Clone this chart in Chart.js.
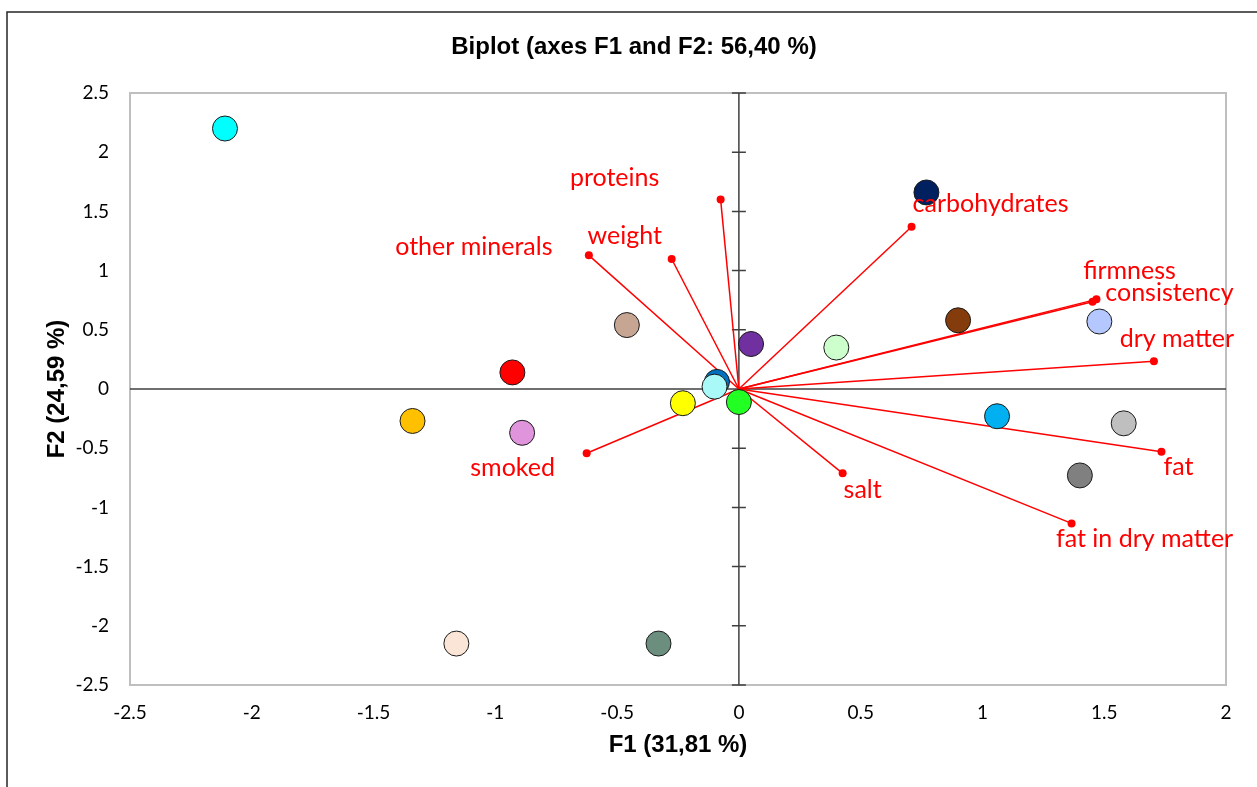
<!DOCTYPE html>
<html lang="en">
    <head>
        <meta charset="UTF-8" />
        <title>Biplot (axes F1 and F2)</title>
        <script src="https://cdn.jsdelivr.net/npm/chart.js"></script>
        <style>
            body { margin: 0; background: #fff; }
        </style>
    </head>
    <body>
        <canvas id="biplot" width="1257" height="787"></canvas>

        <script>
            // observations (F1, F2) and their fill colours
            const obsX = [-2.11, 0.77, -0.46, 0.05, 0.40, 0.90, 1.48, -0.93, -0.09, -0.10, 0.00, -0.23, -1.34, -0.89, 1.06, 1.58, 1.40, -1.16, -0.33];
            const obsY = [2.20, 1.66, 0.54, 0.38, 0.35, 0.58, 0.57, 0.14, 0.06, 0.02, -0.11, -0.12, -0.27, -0.37, -0.23, -0.29, -0.73, -2.15, -2.15];
            const obsColors = ["#00ffff", "#002060", "#c6a593", "#7030a0", "#ccffcc", "#843c0c", "#b4c7ff", "#ff0000", "#0070c0", "#aaf9f9", "#22ff22", "#ffff00", "#ffc000", "#e094dc", "#00b0f0", "#bfbfbf", "#808080", "#fbe5d6", "#6b8e7e"];

            // variables (loadings on F1, F2)
            const varNames = ["proteins", "weight", "other minerals", "carbohydrates", "firmness", "consistency", "dry matter", "fat", "fat in dry matter", "salt", "smoked"];
            const varX = [-0.075, -0.276, -0.616, 0.709, 1.452, 1.468, 1.704, 1.735, 1.366, 0.426, -0.625];
            const varY = [1.60, 1.098, 1.129, 1.371, 0.737, 0.757, 0.234, -0.529, -1.135, -0.712, -0.543];

            const ticksX = [-2.5, -2, -1.5, -1, -0.5, 0, 0.5, 1, 1.5, 2];
            const ticksY = [-2.5, -2, -1.5, -1, -0.5, 0, 0.5, 1, 1.5, 2, 2.5];

            // where each label sits relative to its arrow tip (px)
            const labelOffsets = {
                "proteins": [-106, -22],
                "weight": [-47, -23],
                "other minerals": [-115, -8],
                "carbohydrates": [79, -23],
                "firmness": [37, -31],
                "consistency": [73, -6],
                "dry matter": [23, -22],
                "fat": [17, 15],
                "fat in dry matter": [73, 16],
                "salt": [20, 17],
                "smoked": [-74, 15],
            };

            const vectorSets = varNames.map((name, i) => ({
                label: name,
                type: "scatter",
                data: [{ x: 0, y: 0 }, { x: varX[i], y: varY[i] }],
                showLine: true,
                borderColor: "#ff0000",
                borderWidth: 1.5,
                pointRadius: [0, 4],
                pointBackgroundColor: "#ff0000",
                pointBorderWidth: 0,
                order: 2,
            }));

            const biplotDecor = {
                id: "biplotDecor",
                beforeDatasetsDraw(chart) {
                    const { ctx, chartArea: a, scales } = chart;
                    const x0 = scales.x.getPixelForValue(0);
                    const y0 = scales.y.getPixelForValue(0);
                    ctx.save();
                    // outer frame
                    ctx.strokeStyle = "#262626";
                    ctx.lineWidth = 1.5;
                    ctx.beginPath();
                    ctx.moveTo(7, 787);
                    ctx.lineTo(7, 12);
                    ctx.lineTo(1257, 12);
                    ctx.stroke();
                    // plot border
                    ctx.strokeStyle = "#bfbfbf";
                    ctx.lineWidth = 2;
                    ctx.strokeRect(a.left, a.top, a.right - a.left, a.bottom - a.top);
                    // zero axes
                    ctx.strokeStyle = "#404040";
                    ctx.lineWidth = 1.5;
                    ctx.beginPath();
                    ctx.moveTo(a.left, y0);
                    ctx.lineTo(a.right, y0);
                    ctx.moveTo(x0, a.top);
                    ctx.lineTo(x0, a.bottom);
                    ticksY.forEach((v) => {
                        const py = scales.y.getPixelForValue(v);
                        ctx.moveTo(x0 - 7, py);
                        ctx.lineTo(x0 + 7, py);
                    });
                    ctx.stroke();
                    // title
                    ctx.fillStyle = "#000";
                    ctx.font = "bold 24px 'Liberation Sans', Arial, sans-serif";
                    ctx.textAlign = "center";
                    ctx.textBaseline = "middle";
                    ctx.fillText("Biplot (axes F1 and F2: 56,40 %)", 634, 47);
                    ctx.restore();
                },
                afterDatasetsDraw(chart) {
                    const { ctx, scales } = chart;
                    ctx.save();
                    ctx.fillStyle = "#ff0000";
                    ctx.font = "25px Lato, sans-serif";
                    ctx.textAlign = "center";
                    ctx.textBaseline = "middle";
                    varNames.forEach((name, i) => {
                        const off = labelOffsets[name];
                        const px = scales.x.getPixelForValue(varX[i]);
                        const py = scales.y.getPixelForValue(varY[i]);
                        ctx.fillText(name, px + off[0], py + off[1]);
                    });
                    ctx.restore();
                },
            };

            new Chart(document.getElementById("biplot"), {
                type: "scatter",
                data: {
                    datasets: [
                        {
                            label: "observations",
                            data: obsX.map((x, i) => ({ x: x, y: obsY[i] })),
                            pointRadius: 12.5,
                            pointBackgroundColor: obsColors,
                            pointBorderColor: "#1a1a1a",
                            pointBorderWidth: 1,
                            order: 1,
                        },
                        ...vectorSets,
                    ],
                },
                options: {
                    responsive: false,
                    animation: false,
                    layout: { padding: { top: 93, right: 31, left: 0, bottom: 0 } },
                    plugins: {
                        legend: { display: false },
                        tooltip: { enabled: false },
                    },
                    scales: {
                        x: {
                            min: -2.5,
                            max: 2,
                            afterFit: (s) => { s.height = 102; },
                            afterBuildTicks: (s) => { s.ticks = ticksX.map((v) => ({ value: v })); },
                            grid: { display: false, drawTicks: false },
                            border: { display: false },
                            ticks: {
                                padding: 16,
                                color: "#000",
                                font: { family: "Lato", size: 19 },
                                callback: (v) => String(v),
                            },
                            title: {
                                display: true,
                                text: "F1 (31,81 %)",
                                color: "#000",
                                font: { family: "'Liberation Sans', Arial", size: 24, weight: "bold" },
                                padding: { bottom: 27 },
                            },
                        },
                        y: {
                            min: -2.5,
                            max: 2.5,
                            afterFit: (s) => { s.width = 130; },
                            afterBuildTicks: (s) => { s.ticks = ticksY.map((v) => ({ value: v })); },
                            grid: { display: false, drawTicks: false },
                            border: { display: false },
                            ticks: {
                                padding: 21,
                                color: "#000",
                                font: { family: "Lato", size: 19 },
                                callback: (v) => String(v),
                            },
                            title: {
                                display: true,
                                text: "F2 (24,59 %)",
                                color: "#000",
                                font: { family: "'Liberation Sans', Arial", size: 24, weight: "bold" },
                                padding: { top: 43 },
                            },
                        },
                    },
                },
                plugins: [biplotDecor],
            });
        </script>
    </body>
</html>
